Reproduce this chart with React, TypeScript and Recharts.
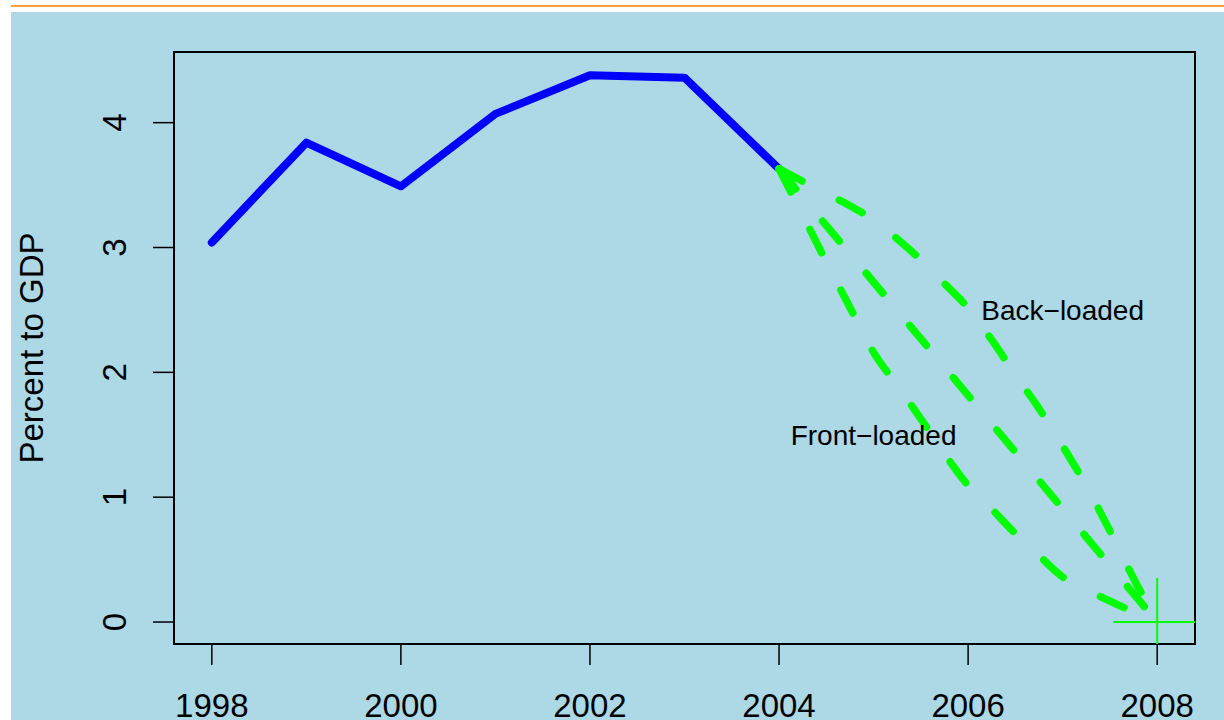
import React from 'react';
import {
  ComposedChart,
  Line,
  Scatter,
  XAxis,
  YAxis,
  ReferenceArea,
  ReferenceDot,
} from 'recharts';

// ---- data ----
const years = [1998, 1999, 2000, 2001, 2002, 2003, 2004];
const deficitActual = [3.04, 3.84, 3.49, 4.07, 4.38, 4.36, 3.63];

const pathYears = [
  2004, 2004.25, 2004.5, 2004.75, 2005, 2005.25, 2005.5, 2005.75, 2006,
  2006.25, 2006.5, 2006.75, 2007, 2007.25, 2007.5, 2007.75, 2008,
];
const frontLoaded = [
  3.63, 3.26, 2.885, 2.52, 2.16, 1.896, 1.628, 1.348, 1.094, 0.905, 0.708,
  0.532, 0.361, 0.261, 0.168, 0.082, 0,
];
const backLoaded = [
  3.63, 3.53, 3.43, 3.335, 3.22, 3.07, 2.9, 2.71, 2.515, 2.26, 1.98, 1.71,
  1.41, 1.09, 0.73, 0.35, 0,
];
const straightYears = [2004, 2008];
const straightPath = [3.63, 0];

const targetYears = [2008];
const targetValues = [0];

const labelYears = [2007, 2005];
const labelValues = [2.5, 1.5];
const labelTexts = ['Back\u2212loaded', 'Front\u2212loaded'];

const xTicks = [1998, 2000, 2002, 2004, 2006, 2008];
const yTicks = [0, 1, 2, 3, 4];

const X_DOMAIN: [number, number] = [1997.6, 2008.4];
const Y_DOMAIN: [number, number] = [-0.176, 4.566];

// ---- tables built from the arrays ----
const toRows = (xs: number[], ys: number[]) =>
  xs.map((x, i) => ({ year: x, value: ys[i] }));

const actualRows = toRows(years, deficitActual);
const frontRows = toRows(pathYears, frontLoaded);
const backRows = toRows(pathYears, backLoaded);
const straightRows = toRows(straightYears, straightPath);
const targetRows = toRows(targetYears, targetValues);

const FONT = '"Liberation Sans", Arial, Helvetica, sans-serif';
const GREEN = '#00FF00';

const YTick = (p: any) => (
  <text
    x={p.x}
    y={p.y}
    transform={`rotate(-90 ${p.x} ${p.y})`}
    textAnchor="middle"
    fontSize={33}
    fontFamily={FONT}
    fill="#000"
  >
    {p.payload.value}
  </text>
);

const YLabel = (p: any) => {
  const vb = p.viewBox || { x: 0, y: 0, width: 0, height: 0 };
  const x = vb.x + 43;
  const y = vb.y + vb.height / 2;
  return (
    <text
      x={x}
      y={y}
      transform={`rotate(-90 ${x} ${y})`}
      textAnchor="middle"
      fontSize={33}
      fontFamily={FONT}
      fill="#000"
    >
      Percent to GDP
    </text>
  );
};

const PlusShape = (p: any) => {
  const { cx, cy } = p;
  const arm = 44;
  return (
    <g>
      <line x1={cx - arm} y1={cy} x2={cx + arm} y2={cy} stroke={GREEN} strokeWidth={2} />
      <line x1={cx} y1={cy - arm} x2={cx} y2={cy + arm} stroke={GREEN} strokeWidth={2} />
    </g>
  );
};

const dashedProps = {
  stroke: GREEN,
  strokeWidth: 7.5,
  strokeDasharray: '26 42',
  strokeLinecap: 'round' as const,
  strokeLinejoin: 'round' as const,
  dot: false,
  activeDot: false,
  isAnimationActive: false,
  dataKey: 'value',
};

export default function App() {
  return (
    <div
      style={{
        position: 'absolute',
        left: 0,
        top: 0,
        width: 1224,
        height: 720,
        background: '#ffffff',
        overflow: 'hidden',
      }}
    >
      <div
        style={{
          position: 'absolute',
          left: 11,
          top: 5,
          right: 0,
          height: 2,
          background: '#FFA040',
        }}
      />
      <div
        style={{
          position: 'absolute',
          left: 11,
          top: 12,
          right: 0,
          bottom: 0,
          background: '#ADD8E6',
        }}
      />
      <div style={{ position: 'absolute', left: 0, top: 0 }}>
        <ComposedChart
          width={1224}
          height={720}
          margin={{ top: 52, right: 29, bottom: 0, left: 0 }}
        >
          <XAxis
            type="number"
            dataKey="year"
            domain={X_DOMAIN}
            allowDataOverflow
            ticks={xTicks}
            interval={0}
            height={76}
            axisLine={false}
            tickLine={{ stroke: '#000', strokeWidth: 1.5 }}
            tickSize={21}
            tickMargin={29}
            tick={{ fontSize: 33, fill: '#000', fontFamily: FONT }}
          />
          <YAxis
            type="number"
            dataKey="value"
            domain={Y_DOMAIN}
            allowDataOverflow
            ticks={yTicks}
            interval={0}
            width={174}
            axisLine={false}
            tickLine={{ stroke: '#000', strokeWidth: 1.5 }}
            tickSize={21}
            tickMargin={27}
            tick={YTick}
            label={YLabel}
          />
          <ReferenceArea
            x1={X_DOMAIN[0]}
            x2={X_DOMAIN[1]}
            y1={Y_DOMAIN[0]}
            y2={Y_DOMAIN[1]}
            ifOverflow="visible"
            fill="none"
            stroke="#000"
            strokeWidth={2}
            fillOpacity={0}
          />
          <Line
            data={actualRows}
            dataKey="value"
            type="linear"
            stroke="#0000FF"
            strokeWidth={8}
            strokeLinecap="round"
            strokeLinejoin="round"
            dot={false}
            activeDot={false}
            isAnimationActive={false}
          />
          <Line data={backRows} type="monotone" {...dashedProps} />
          <Line data={straightRows} type="linear" {...dashedProps} />
          <Line data={frontRows} type="monotone" {...dashedProps} />
          <Scatter
            data={targetRows}
            dataKey="value"
            shape={PlusShape}
            isAnimationActive={false}
          />
          {labelTexts.map((t, i) => (
            <ReferenceDot
              key={t}
              x={labelYears[i]}
              y={labelValues[i]}
              r={0}
              fill="none"
              stroke="none"
              ifOverflow="visible"
              label={{
                value: t,
                position: 'center',
                fontSize: 28,
                fill: '#000',
                fontFamily: FONT,
              }}
            />
          ))}
        </ComposedChart>
      </div>
    </div>
  );
}
